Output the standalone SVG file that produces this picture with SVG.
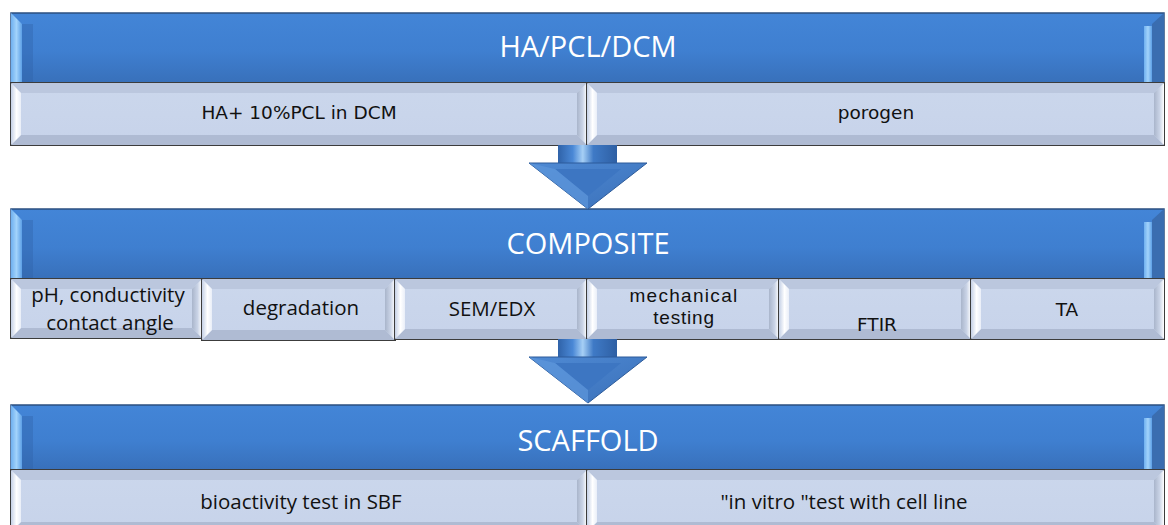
<svg xmlns="http://www.w3.org/2000/svg" width="1168" height="525" viewBox="0 0 1168 525">
<defs>
<linearGradient id="blueFace" x1="0" y1="0" x2="0" y2="1">
<stop offset="0" stop-color="#4385D7"/><stop offset="0.55" stop-color="#3F7FD0"/><stop offset="1" stop-color="#3870BA"/>
</linearGradient>
<linearGradient id="blueHi" x1="0" y1="0" x2="1" y2="0">
<stop offset="0" stop-color="#6FB0F0"/><stop offset="0.5" stop-color="#A2D3FB"/><stop offset="1" stop-color="#5C9FE6"/>
</linearGradient>
<linearGradient id="lightFace" x1="0" y1="0" x2="0" y2="1">
<stop offset="0" stop-color="#CBD7EC"/><stop offset="1" stop-color="#C7D3EA"/>
</linearGradient>
<linearGradient id="bevL" x1="0" y1="0" x2="1" y2="0">
<stop offset="0" stop-color="#C4D0E6"/><stop offset="0.55" stop-color="#FFFFFF"/><stop offset="1" stop-color="#E9EEF8"/>
</linearGradient>
<linearGradient id="bevR" x1="0" y1="0" x2="1" y2="0">
<stop offset="0" stop-color="#A9B5CB"/><stop offset="0.55" stop-color="#C9D3E6"/><stop offset="1" stop-color="#FFFFFF"/>
</linearGradient>
<linearGradient id="shaft" x1="0" y1="0" x2="1" y2="0">
<stop offset="0" stop-color="#2F62A8"/><stop offset="0.25" stop-color="#4A88D6"/><stop offset="0.42" stop-color="#A6CFF5"/><stop offset="0.6" stop-color="#3F7AC6"/><stop offset="1" stop-color="#2E5FA3"/>
</linearGradient>
<linearGradient id="headL" x1="0" y1="0" x2="1" y2="1">
<stop offset="0" stop-color="#4F8AD4"/><stop offset="1" stop-color="#3A70B9"/>
</linearGradient>
</defs>
<style>
.bface{fill:url(#blueFace);stroke:#2B4F80;stroke-width:1.5}
.bhi{fill:url(#blueHi)}
.bsh{fill:#2F5FA2;opacity:0.35}
.bright{fill:#3A6DB0}
.lface{fill:url(#lightFace);stroke:#3C3C3C;stroke-width:2}
.bt{fill:#BBC7DE}
.bb{fill:#AFBBD3}
.bl{fill:url(#bevL)}
.br{fill:url(#bevR)}
.hdr{font-family:"Open Sans","Liberation Sans",sans-serif;font-size:29px;fill:#FFFFFF;text-anchor:middle}
.t1{font-family:"DejaVu Sans","Liberation Sans",sans-serif;font-size:18.5px;fill:#111111;text-anchor:middle}
.t2{font-family:"Open Sans","Liberation Sans",sans-serif;font-size:20.5px;fill:#111111;text-anchor:middle}
.t3{font-family:"Liberation Sans",Arial,sans-serif;font-size:19px;fill:#111111;text-anchor:middle}
.shaft{fill:url(#shaft)}
.head{fill:url(#headL);stroke:#2D5B9A;stroke-width:1}
.headin{fill:#3D76C2}
.ridge{fill:#5E97DC;opacity:0.7}
</style>

<!-- Row 1 header -->
<g id="hdr-hapcldcm">
<rect class="bface" x="11" y="13" width="1153" height="70"/>
<polygon class="bhi" points="11,13 22,24 22,83 11,83"/>
<rect class="bsh" x="22" y="24" width="11" height="59"/>
<polygon class="bright" points="1164,13 1152,24 1152,83 1164,83"/>
<rect class="bhi" x="1144" y="26" width="8" height="57"/>
<text class="hdr" x="588" y="57">HA/PCL/DCM</text>
</g>
<g id="box-ha-pcl">
<rect class="lface" x="11" y="83" width="576" height="62"/>
<polygon class="bt" points="11,83 587,83 577,93 21,93"/>
<polygon class="bb" points="11,145 587,145 577,135 21,135"/>
<polygon class="bl" points="11,83 21,93 21,135 11,145"/>
<polygon class="br" points="587,83 577,93 577,135 587,145"/>
<text class="t1" x="299" y="119">HA+ 10%PCL in DCM</text>
</g>
<g id="box-porogen">
<rect class="lface" x="587" y="83" width="577" height="62"/>
<polygon class="bt" points="587,83 1164,83 1154,93 597,93"/>
<polygon class="bb" points="587,145 1164,145 1154,135 597,135"/>
<polygon class="bl" points="587,83 597,93 597,135 587,145"/>
<polygon class="br" points="1164,83 1154,93 1154,135 1164,145"/>
<text class="t1" x="876" y="119">porogen</text>
</g>

<!-- Row 2 header -->
<g id="hdr-composite">
<rect class="bface" x="11" y="209" width="1153" height="70"/>
<polygon class="bhi" points="11,209 22,220 22,279 11,279"/>
<rect class="bsh" x="22" y="220" width="11" height="59"/>
<polygon class="bright" points="1164,209 1152,220 1152,279 1164,279"/>
<rect class="bhi" x="1144" y="222" width="8" height="57"/>
<text class="hdr" x="588" y="254">COMPOSITE</text>
</g>
<g id="box-ph">
<rect class="lface" x="11" y="279" width="191" height="59"/>
<polygon class="bt" points="11,279 202,279 192,289 21,289"/>
<polygon class="bb" points="11,338 202,338 192,328 21,328"/>
<polygon class="bl" points="11,279 21,289 21,328 11,338"/>
<polygon class="br" points="202,279 192,289 192,328 202,338"/>
<text class="t2" x="108" y="302">pH, conductivity</text>
<text class="t2" x="110" y="330">contact angle</text>
</g>
<g id="box-degradation">
<rect class="lface" x="202" y="279" width="193" height="61"/>
<polygon class="bt" points="202,279 395,279 385,289 212,289"/>
<polygon class="bb" points="202,340 395,340 385,330 212,330"/>
<polygon class="bl" points="202,279 212,289 212,330 202,340"/>
<polygon class="br" points="395,279 385,289 385,330 395,340"/>
<text class="t2" x="301" y="315">degradation</text>
</g>
<g id="box-sem">
<rect class="lface" x="395" y="279" width="192" height="60"/>
<polygon class="bt" points="395,279 587,279 577,289 405,289"/>
<polygon class="bb" points="395,339 587,339 577,329 405,329"/>
<polygon class="bl" points="395,279 405,289 405,329 395,339"/>
<polygon class="br" points="587,279 577,289 577,329 587,339"/>
<text class="t2" x="492" y="316">SEM/EDX</text>
</g>
<g id="box-mechanical">
<rect class="lface" x="587" y="279" width="192" height="60"/>
<polygon class="bt" points="587,279 779,279 769,289 597,289"/>
<polygon class="bb" points="587,339 779,339 769,329 597,329"/>
<polygon class="bl" points="587,279 597,289 597,329 587,339"/>
<polygon class="br" points="779,279 769,289 769,329 779,339"/>
<text class="t3" x="684" y="302" letter-spacing="1.3">mechanical</text>
<text class="t3" x="684" y="324" letter-spacing="0.8">testing</text>
</g>
<g id="box-ftir">
<rect class="lface" x="779" y="279" width="192" height="60"/>
<polygon class="bt" points="779,279 971,279 961,289 789,289"/>
<polygon class="bb" points="779,339 971,339 961,329 789,329"/>
<polygon class="bl" points="779,279 789,289 789,329 779,339"/>
<polygon class="br" points="971,279 961,289 961,329 971,339"/>
<text class="t1" x="877" y="331">FTIR</text>
</g>
<g id="box-ta">
<rect class="lface" x="971" y="279" width="193" height="60"/>
<polygon class="bt" points="971,279 1164,279 1154,289 981,289"/>
<polygon class="bb" points="971,339 1164,339 1154,329 981,329"/>
<polygon class="bl" points="971,279 981,289 981,329 971,339"/>
<polygon class="br" points="1164,279 1154,289 1154,329 1164,339"/>
<text class="t1" x="1067" y="316">TA</text>
</g>

<!-- Row 3 header -->
<g id="hdr-scaffold">
<rect class="bface" x="11" y="405" width="1153" height="65"/>
<polygon class="bhi" points="11,405 22,416 22,470 11,470"/>
<rect class="bsh" x="22" y="416" width="11" height="54"/>
<polygon class="bright" points="1164,405 1152,416 1152,470 1164,470"/>
<rect class="bhi" x="1144" y="418" width="8" height="52"/>
<text class="hdr" x="588" y="451">SCAFFOLD</text>
</g>
<g id="box-bioactivity">
<rect class="lface" x="11" y="470" width="576" height="62"/>
<polygon class="bt" points="11,470 587,470 577,480 21,480"/>
<polygon class="bb" points="11,532 587,532 577,522 21,522"/>
<polygon class="bl" points="11,470 21,480 21,522 11,532"/>
<polygon class="br" points="587,470 577,480 577,522 587,532"/>
<text class="t2" x="301" y="509" font-size="21">bioactivity test in SBF</text>
</g>
<g id="box-invitro">
<rect class="lface" x="587" y="470" width="577" height="62"/>
<polygon class="bt" points="587,470 1164,470 1154,480 597,480"/>
<polygon class="bb" points="587,532 1164,532 1154,522 597,522"/>
<polygon class="bl" points="587,470 597,480 597,522 587,532"/>
<polygon class="br" points="1164,470 1154,480 1154,522 1164,532"/>
<text class="t2" x="844" y="509" font-size="19">"in vitro "test with cell line</text>
</g>

<!-- Connectors -->
<g id="connectors">
<g id="arrow1">
<rect class="shaft" x="558" y="145" width="59" height="19"/>
<polygon class="head" points="529,163 647,163 588,209"/>
<polygon class="headin" points="555,169 621,169 588,196"/>
<polygon class="ridge" points="529,163 588,209 588,196 555,169"/>
</g>
<g id="arrow2">
<rect class="shaft" x="558" y="339" width="59" height="19"/>
<polygon class="head" points="529,357 647,357 588,403"/>
<polygon class="headin" points="555,363 621,363 588,390"/>
<polygon class="ridge" points="529,357 588,403 588,390 555,363"/>
</g>
</g>
</svg>
